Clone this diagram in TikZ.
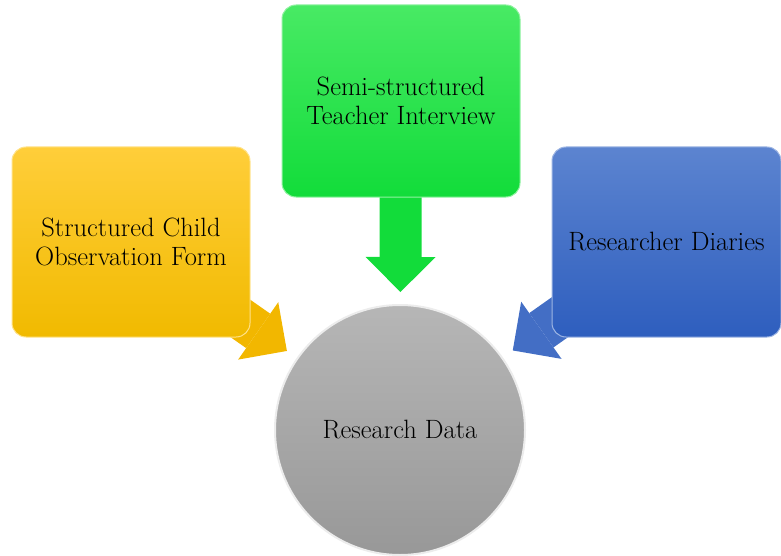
\documentclass[tikz,border=0pt]{standalone}
\usepackage{tikz}
\usetikzlibrary{arrows.meta,backgrounds}
\definecolor{formtop}{RGB}{255,206,58}
\definecolor{formbot}{RGB}{241,186,0}
\definecolor{teachtop}{RGB}{72,234,100}
\definecolor{teachbot}{RGB}{18,220,58}
\definecolor{diarytop}{RGB}{92,132,208}
\definecolor{diarybot}{RGB}{46,94,190}
\definecolor{datatop}{RGB}{182,182,182}
\definecolor{databot}{RGB}{152,152,152}

\begin{document}
\begin{tikzpicture}[x=1pt,y=-1pt]
\tikzstyle{src}=[rectangle,rounded corners=14pt,minimum width=238pt,minimum height=190pt,align=center,font=\fontsize{26.5}{29}\selectfont,line width=1pt]
\tikzstyle{feed}=[line width=42pt,-{Triangle[length=35pt,width=70pt,line width=0pt]},shorten >=12pt]
\useasboundingbox (0,0) rectangle (781,556);

\node[src,top color=formtop,bottom color=formbot,draw=formtop!60!white](form) at (131,242) {Structured Child\\Observation Form};
\node[src,top color=teachtop,bottom color=teachbot,draw=teachtop!60!white,minimum height=192pt](teacher) at (401,101) {Semi-structured\\Teacher Interview};
\node[src,top color=diarytop,bottom color=diarybot,draw=diarytop!60!white,minimum width=229pt](diaries) at (666.5,242) {Researcher Diaries};
\node[circle,minimum size=250pt,top color=datatop,bottom color=databot,draw=white!85!gray,line width=2pt,font=\fontsize{26.5}{29}\selectfont](data) at (400,430) {Research Data};

\begin{pgfonlayer}{background}
\draw[feed,formbot!95!orange] (form.center) -- (data);
\draw[feed,teachbot] (teacher.center) -- (data);
\draw[feed,diarybot!90!white] (diaries.center) -- (data);
\end{pgfonlayer}
\end{tikzpicture}
\end{document}
